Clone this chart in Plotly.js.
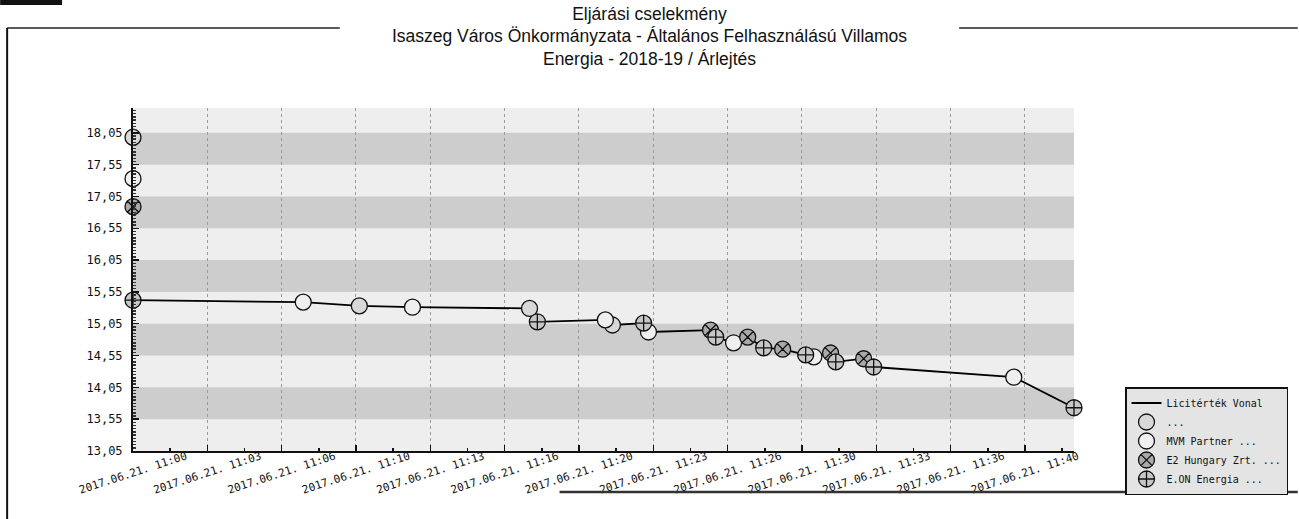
<!DOCTYPE html>
<html>
<head>
<meta charset="utf-8">
<script src="https://cdn.plot.ly/plotly-3.0.1.min.js"></script>
<style>html,body{margin:0;padding:0;background:#fff;}#chart{width:1299px;height:519px;}</style>
</head>
<body>
<div id="chart"></div>
<script>
// ---- data ----
const titleLines = [
  'Eljárási cselekmény',
  'Isaszeg Város Önkormányzata - Általános Felhasználású Villamos',
  'Energia - 2018-19 / Árlejtés'
];
const lineName = 'Licitérték Vonal';
const bidderNames = ['...', 'MVM Partner ...', 'E2 Hungary Zrt. ...', 'E.ON Energia ...'];

const openingTime = '2017-06-21 11:00:00';
const openingValues = [17.98, 17.33, 16.89, 15.42];

const bidTimes = [
  '2017-06-21 11:07:38', '2017-06-21 11:10:09', '2017-06-21 11:12:32', '2017-06-21 11:17:47',
  '2017-06-21 11:18:08', '2017-06-21 11:21:11', '2017-06-21 11:21:30', '2017-06-21 11:22:54',
  '2017-06-21 11:23:07', '2017-06-21 11:25:54', '2017-06-21 11:26:08', '2017-06-21 11:26:56',
  '2017-06-21 11:27:34', '2017-06-21 11:28:17', '2017-06-21 11:29:08', '2017-06-21 11:30:10',
  '2017-06-21 11:30:32', '2017-06-21 11:31:17', '2017-06-21 11:31:31', '2017-06-21 11:32:46',
  '2017-06-21 11:33:13', '2017-06-21 11:39:30', '2017-06-21 11:42:12'
];
const bidValues = [
  15.39, 15.33, 15.31, 15.29,
  15.08, 15.11, 15.03, 15.06,
  14.92, 14.95, 14.84, 14.75,
  14.84, 14.67, 14.65, 14.56,
  14.53, 14.59, 14.45, 14.50,
  14.37, 14.21, 13.73
];
const bidBidder = [
  1, 0, 1, 0,
  3, 1, 0, 3,
  1, 2, 3, 1,
  2, 3, 2, 3,
  1, 2, 3, 2,
  3, 1, 3
];

const xTickVals = [
  '2017-06-21 11:00:00', '2017-06-21 11:03:20', '2017-06-21 11:06:40', '2017-06-21 11:10:00',
  '2017-06-21 11:13:20', '2017-06-21 11:16:40', '2017-06-21 11:20:00', '2017-06-21 11:23:20',
  '2017-06-21 11:26:40', '2017-06-21 11:30:00', '2017-06-21 11:33:20', '2017-06-21 11:36:40',
  '2017-06-21 11:40:00'
];
const xTickLabels = [
  '2017.06.21. 11:00', '2017.06.21. 11:03', '2017.06.21. 11:06', '2017.06.21. 11:10',
  '2017.06.21. 11:13', '2017.06.21. 11:16', '2017.06.21. 11:20', '2017.06.21. 11:23',
  '2017.06.21. 11:26', '2017.06.21. 11:30', '2017.06.21. 11:33', '2017.06.21. 11:36',
  '2017.06.21. 11:40'
];
const yTickVals = [13.05, 13.55, 14.05, 14.55, 15.05, 15.55, 16.05, 16.55, 17.05, 17.55, 18.05];
const yTickLabels = ['13,05', '13,55', '14,05', '14,55', '15,05', '15,55', '16,05', '16,55', '17,05', '17,55', '18,05'];

// ---- traces ----
const traces = [];
traces.push({
  type: 'scatter', mode: 'lines', name: lineName,
  x: [openingTime].concat(bidTimes),
  y: [Math.min.apply(null, openingValues)].concat(bidValues),
  line: {color: '#000', width: 1.8},
  cliponaxis: false
});
const markerStyles = [
  {symbol: 'circle', color: '#d8d8d8'},
  {symbol: 'circle', color: '#efefef'},
  {symbol: 'circle-x', color: '#a9a9a9'},
  {symbol: 'circle-cross', color: '#c6c6c6'}
];
bidderNames.forEach(function (name, i) {
  const xs = [openingTime], ys = [openingValues[i]];
  bidTimes.forEach(function (t, j) {
    if (bidBidder[j] === i) { xs.push(t); ys.push(bidValues[j]); }
  });
  traces.push({
    type: 'scatter', mode: 'markers', name: name, x: xs, y: ys,
    cliponaxis: false,
    marker: {symbol: markerStyles[i].symbol, size: 16, color: markerStyles[i].color,
             line: {color: '#111', width: 1.3}}
  });
});

// ---- decorative bands and frame ----
const L = 133, W = 942, T = 108, H = 343;
function px(x) { return (x - L) / W; }
function py(y) { return (T + H - y) / H; }
const shapes = [];
for (let k = 1; k < yTickVals.length; k += 2) {
  shapes.push({type: 'rect', xref: 'paper', yref: 'y', x0: 0, x1: 1,
    y0: yTickVals[k], y1: yTickVals[k] + 0.5, fillcolor: '#cdcdcd', line: {width: 0}, layer: 'below'});
}
shapes.push({type: 'line', xref: 'paper', yref: 'paper', x0: px(7), x1: px(340), y0: py(28), y1: py(28), line: {color: '#222', width: 1.5}});
shapes.push({type: 'line', xref: 'paper', yref: 'paper', x0: px(960), x1: px(1299), y0: py(28), y1: py(28), line: {color: '#222', width: 1.5}});
shapes.push({type: 'line', xref: 'paper', yref: 'paper', x0: px(7), x1: px(7), y0: py(28), y1: py(519), line: {color: '#111', width: 2}});
shapes.push({type: 'line', xref: 'paper', yref: 'paper', x0: px(560), x1: px(1299), y0: py(492), y1: py(492), line: {color: '#333', width: 2.5}});
shapes.push({type: 'rect', xref: 'paper', yref: 'paper', x0: px(0), x1: px(62), y0: py(0), y1: py(5), fillcolor: '#111', line: {width: 0}});

const layout = {
  width: 1299, height: 519,
  margin: {l: L, r: 1299 - L - W, t: T, b: 519 - T - H},
  paper_bgcolor: '#ffffff',
  plot_bgcolor: '#eeeeee',
  title: {
    text: titleLines.join('<br>'),
    font: {family: 'Liberation Sans, Arial, sans-serif', size: 17.5, color: '#111'},
    x: 0.5, xref: 'container', xanchor: 'center',
    y: 0.962, yref: 'container', yanchor: 'middle'
  },
  xaxis: {
    type: 'date',
    range: ['2017-06-21 11:00:00', '2017-06-21 11:42:12'],
    tickmode: 'array', tickvals: xTickVals, ticktext: xTickLabels,
    tickangle: -18,
    ticklabelshift: 53,
    ticklabelstandoff: -7,
    tickfont: {family: 'DejaVu Sans Mono, monospace', size: 11, color: '#111'},
    ticks: 'inside', ticklen: 6, tickcolor: '#111', tickwidth: 1.5,
    minor: {ticks: 'inside', ticklen: 3, tickcolor: '#111', dtick: 100000, tick0: '2017-06-21 11:00:00', showgrid: false},
    showline: true, linecolor: '#111', linewidth: 2,
    showgrid: true, gridcolor: '#9a9a9a', griddash: 'dot', gridwidth: 1,
    zeroline: false, fixedrange: true
  },
  yaxis: {
    range: [13.05, 18.44],
    tickmode: 'array', tickvals: yTickVals, ticktext: yTickLabels,
    tickfont: {family: 'DejaVu Sans Mono, monospace', size: 12, color: '#111'},
    ticks: 'inside', ticklen: 6, tickcolor: '#111', tickwidth: 1.5,
    ticklabelstandoff: 6,
    minor: {ticks: 'inside', ticklen: 3, tickcolor: '#333', dtick: 0.05, tick0: 13.05, showgrid: false},
    showline: true, linecolor: '#111', linewidth: 2,
    showgrid: false, zeroline: false, fixedrange: true
  },
  showlegend: true,
  legend: {
    x: px(1125), xanchor: 'left', y: py(387), yanchor: 'top',
    bgcolor: '#e4e4e4', bordercolor: '#111', borderwidth: 1.5,
    font: {family: 'DejaVu Sans Mono, monospace', size: 10, color: '#111'},
    tracegroupgap: 0, itemwidth: 30
  },
  shapes: shapes
};

Plotly.newPlot('chart', traces, layout, {displayModeBar: false, staticPlot: true});
</script>
</body>
</html>
